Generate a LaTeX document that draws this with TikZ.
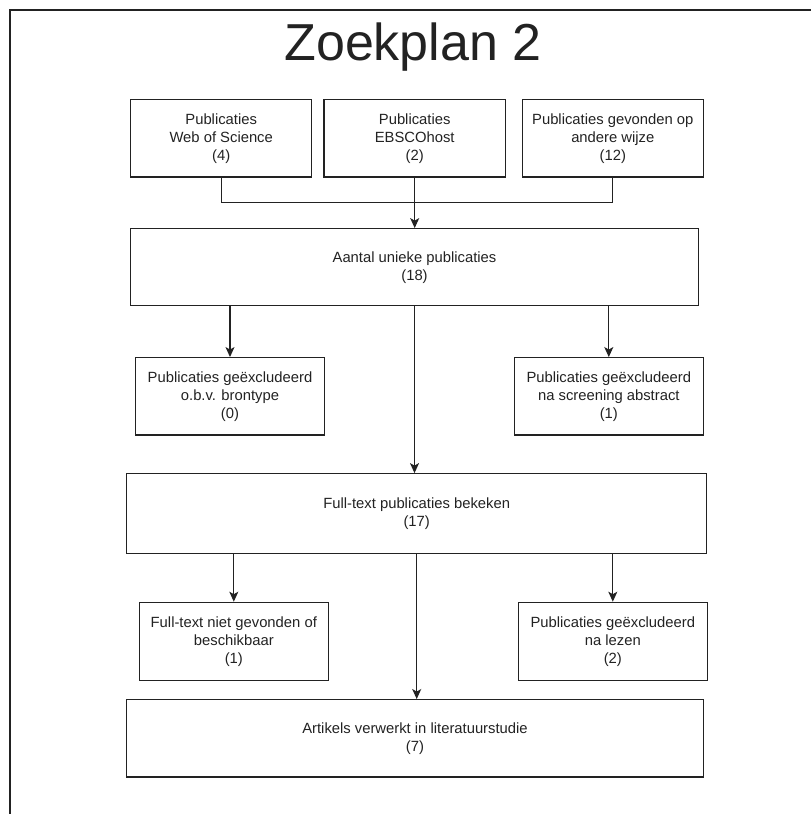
\documentclass[tikz,border=0pt]{standalone}
\usepackage{fontspec}
\setmainfont{Liberation Sans}
\usetikzlibrary{arrows.meta}
\definecolor{ink}{RGB}{34,34,34}
\tikzset{
  box/.style={draw=ink, line width=1.2bp, text=ink, align=center, inner sep=0pt,
    font=\fontsize{14.8bp}{18bp}\selectfont},
  link/.style={draw=ink, line width=1.2bp},
  arr/.style={link, -{Stealth[length=10bp,width=9bp,inset=2.5bp]}}
}
\begin{document}
\begin{tikzpicture}[x=1bp,y=-1bp]
\useasboundingbox (0,0) rectangle (811,814);
\draw[ink, line width=1.2bp] (10,814) -- (10,10) -- (811,10);
\node[text=ink, font=\fontsize{52bp}{60bp}\selectfont, anchor=base] (title) at (413,61) {Zoekplan 2};

\node[box, minimum width=181bp, minimum height=77.7bp] (wos) at (221.2,138.2) {Publicaties\\Web of Science\\(4)};
\node[box, minimum width=181.3bp, minimum height=77.7bp] (ebsco) at (414.7,138.2) {Publicaties\\EBSCOhost\\(2)};
\node[box, minimum width=181bp, minimum height=77.7bp] (andere) at (612.8,138.2) {Publicaties gevonden op\\andere wijze\\(12)};
\node[box, minimum width=567.6bp, minimum height=77bp] (aantal) at (414.5,267.2) {Aantal unieke publicaties\\(18)};
\node[box, minimum width=188.6bp, minimum height=77.3bp] (brontype) at (230,396.3) {Publicaties geëxcludeerd\\o.b.v. brontype\\(0)};
\node[box, minimum width=189bp, minimum height=77.3bp] (screening) at (608.8,396.3) {Publicaties geëxcludeerd\\na screening abstract\\(1)};
\node[box, minimum width=580bp, minimum height=79.6bp] (fulltext) at (416.7,513.5) {Full-text publicaties bekeken\\(17)};
\node[box, minimum width=189bp, minimum height=78bp] (niet) at (233.8,641.3) {Full-text niet gevonden of\\beschikbaar\\(1)};
\node[box, minimum width=189bp, minimum height=78bp] (lezen) at (612.8,641.3) {Publicaties geëxcludeerd\\na lezen\\(2)};
\node[box, minimum width=576.6bp, minimum height=77.3bp] (artikels) at (415,738.3) {Artikels verwerkt in literatuurstudie\\(7)};

\coordinate (join) at (414.7,202.7);
\draw[link] (wos.south) |- (join);
\draw[link] (andere.south) |- (join);
\draw[arr] (ebsco.south) -- (ebsco.south |- aantal.north);

\draw[arr] (brontype.north |- aantal.south) -- (brontype.north);
\draw[arr] (screening.north |- aantal.south) -- (screening.north);
\draw[arr] (aantal.south) -- (aantal.south |- fulltext.north);

\draw[arr] (niet.north |- fulltext.south) -- (niet.north);
\draw[arr] (lezen.north |- fulltext.south) -- (lezen.north);
\draw[arr] (fulltext.south) -- (fulltext.south |- artikels.north);
\end{tikzpicture}
\end{document}
